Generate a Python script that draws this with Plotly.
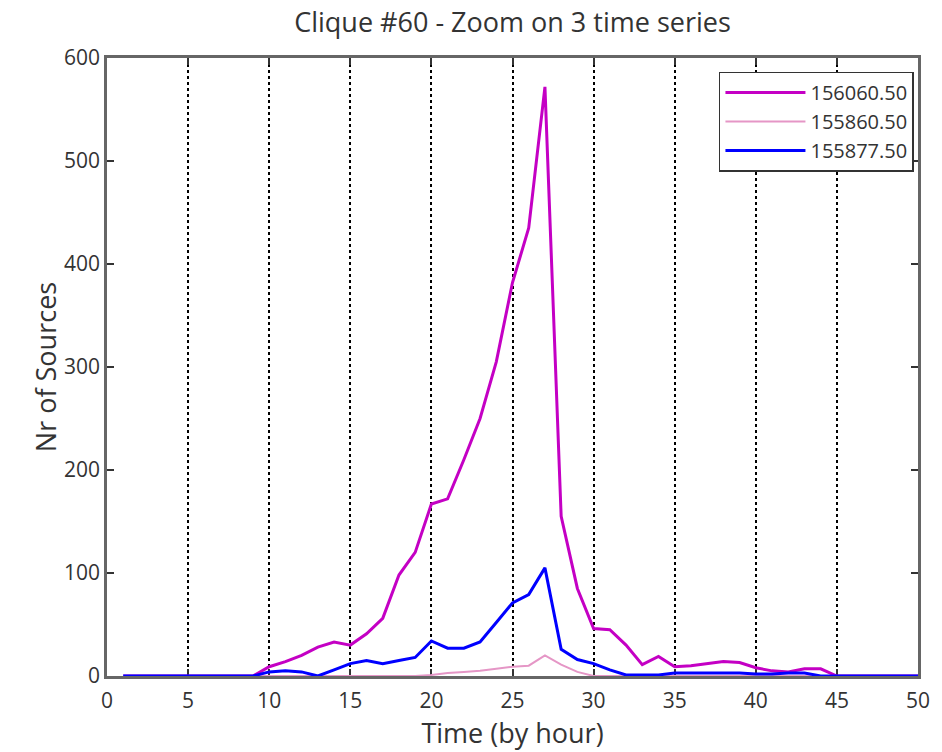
import plotly.graph_objects as go

hours = list(range(1, 51))

s156060 = [0, 0, 0, 0, 0, 0, 0, 0, 0, 9,
           14, 20, 28, 33, 30, 41, 56, 98, 120, 167,
           172, 210, 250, 305, 382, 435, 572, 155, 85, 46,
           45, 30, 11, 19, 9, 10, 12, 14, 13, 8,
           5, 4, 7, 7, 0, 0, 0, 0, 0, 0]

s155860 = [0, 0, 0, 0, 0, 0, 0, 0, 0, 0,
           0, 0, 0, 0, 0, 0, 0, 0, 0, 1,
           3, 4, 5, 7, 9, 10, 20, 11, 4, 0,
           0, 0, 0, 0, 0, 0, 0, 0, 0, 0,
           0, 0, 0, 0, 0, 0, 0, 0, 0, 0]

s155877 = [0, 0, 0, 0, 0, 0, 0, 0, 0, 4,
           5, 4, 0, 6, 12, 15, 12, 15, 18, 34,
           27, 27, 33, 52, 71, 79, 105, 26, 16, 12,
           6, 1, 1, 1, 3, 3, 3, 3, 3, 2,
           2, 3, 3, 0, 0, 0, 0, 0, 0, 0]

names = ["156060.50", "155860.50", "155877.50"]
colors = ["#C400C4", "#E596C6", "#0000FF"]
widths = [3, 2, 3]

x_ticks = list(range(0, 51, 5))
y_ticks = list(range(0, 601, 100))

fig = go.Figure()
for name, ys, c, w in zip(names, [s156060, s155860, s155877], colors, widths):
    fig.add_trace(go.Scatter(x=hours, y=ys, mode="lines", name=name,
                             line=dict(color=c, width=w)))

font_family = "Open Sans"
fig.update_layout(
    width=942, height=752,
    margin=dict(l=107, r=17, t=58, b=76),
    paper_bgcolor="white", plot_bgcolor="white",
    title=dict(text="Clique #60 - Zoom on 3 time series", xref="paper", x=0.5,
               xanchor="center", y=0.9694, yanchor="middle",
               font=dict(family=font_family, size=27, color="#333")),
    font=dict(family=font_family, color="#333"),
    showlegend=True,
    legend=dict(x=0.995, y=0.978, xanchor="right", yanchor="top",
                bgcolor="white", bordercolor="#333", borderwidth=1.5,
                font=dict(family=font_family, size=20, color="#333"),
                itemwidth=80, tracegroupgap=0),
)
fig.update_xaxes(
    range=[0, 50], tickvals=x_ticks, ticktext=[str(v) for v in x_ticks],
    ticks="inside", ticklen=7, tickcolor="#333", tickwidth=1.5, mirror="ticks",
    showline=True, linecolor="#666", linewidth=2.5, layer="below traces",
    showgrid=True, gridcolor="black", griddash="dot", gridwidth=1.5,
    zeroline=False, ticklabelstandoff=4,
    tickfont=dict(size=21, color="#333"),
    title=dict(text="Time (by hour)", font=dict(size=27, color="#333"), standoff=2),
)
fig.update_yaxes(
    range=[0, 600], tickvals=y_ticks, ticktext=[str(v) for v in y_ticks],
    ticks="inside", ticklen=7, tickcolor="#333", tickwidth=1.5, mirror="ticks",
    showline=True, linecolor="#666", linewidth=2.5, layer="below traces",
    showgrid=False, zeroline=False,
    tickfont=dict(size=21, color="#333"),
    title=dict(text="Nr of Sources", font=dict(size=27, color="#333"), standoff=0),
)

fig.write_html("out.html",
               config={"displayModeBar": False},
               post_script="document.body.style.margin='0';document.body.style.overflow='hidden';")
